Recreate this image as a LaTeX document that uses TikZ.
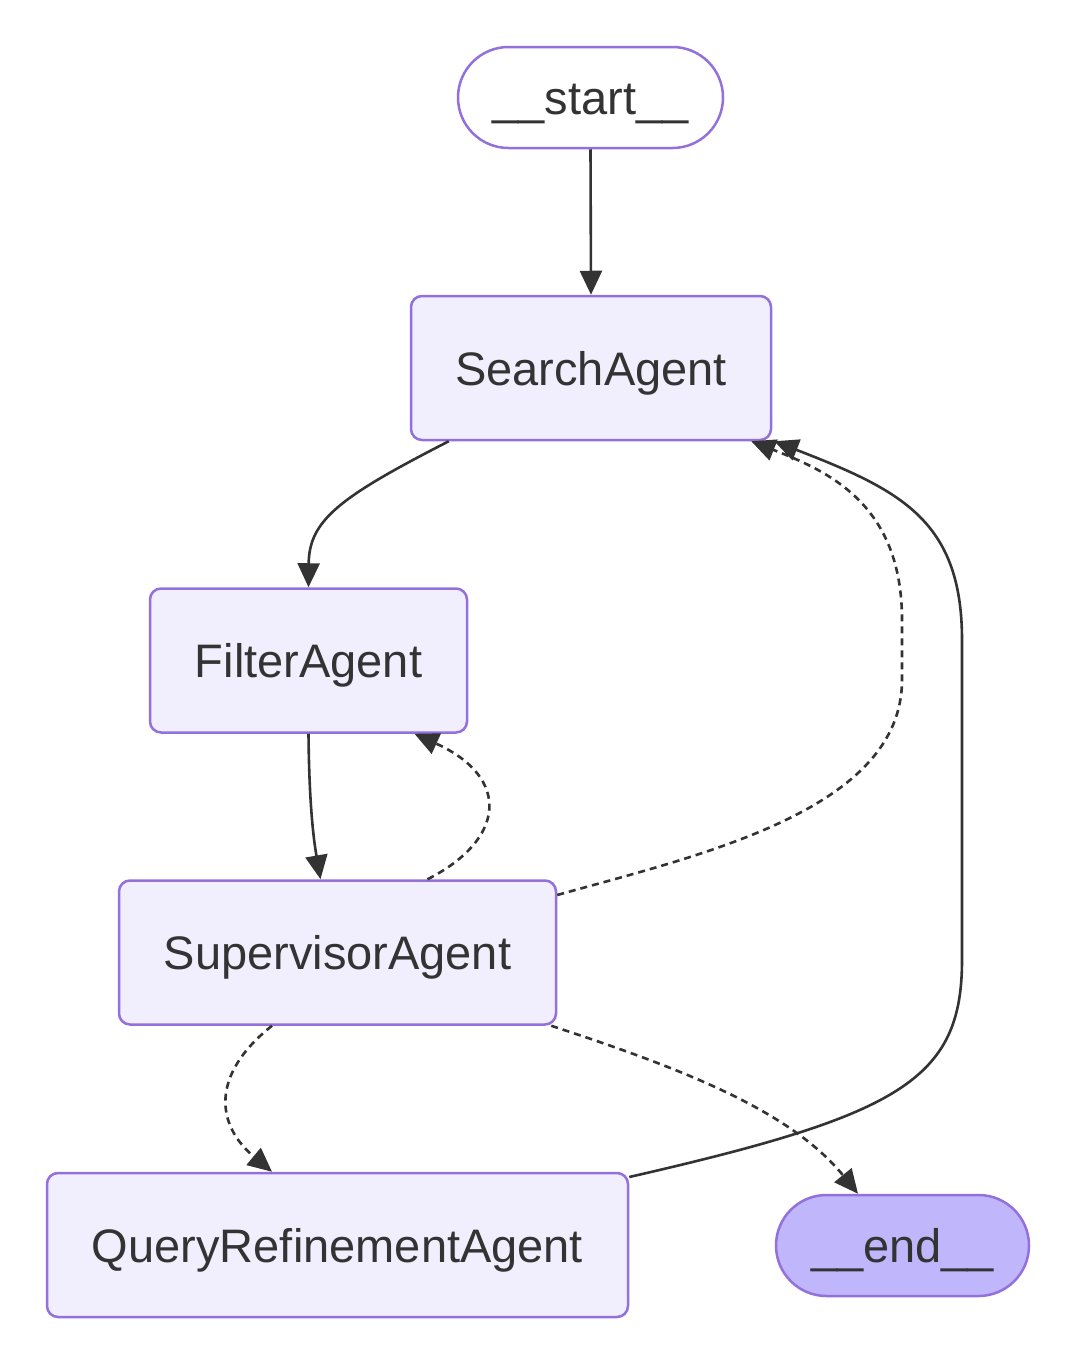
\documentclass[tikz,border=0pt]{standalone}
\usepackage{fontspec}
\setmainfont{Liberation Sans}
\usetikzlibrary{arrows.meta,shapes.misc}
\definecolor{nodefill}{HTML}{F1EFFE}
\definecolor{nodestroke}{HTML}{9370DB}
\definecolor{endfill}{HTML}{BFB6FC}
\definecolor{txt}{HTML}{333333}
\definecolor{edgec}{HTML}{333333}
\tikzset{
  agent/.style={draw=nodestroke, fill=nodefill, line width=2.5pt, rounded corners=11pt,
    minimum height=144pt, inner sep=0pt, text=txt, text height=34pt, text depth=0pt,
    font=\fontsize{47}{50}\selectfont},
  terminal/.style={draw=nodestroke, line width=2.5pt, rounded rectangle, rounded rectangle arc length=180,
    minimum height=101pt, inner sep=0pt, text=txt, text height=33pt, text depth=0pt,
    font=\fontsize{47}{50}\selectfont},
  conn/.style={draw=edgec, line width=2.6pt, -{Triangle[length=24pt,width=22pt]}},
  dconn/.style={conn, dash pattern=on 7pt off 5pt},
}
\begin{document}
\begin{tikzpicture}[x=1pt,y=-1pt]
\useasboundingbox (0,0) rectangle (1077,1368);
\node[terminal, fill=white, minimum width=265pt] (start) at (590.5,97.5) {\_\_start\_\_};
\node[agent, minimum width=360pt] (search) at (591,368) {SearchAgent};
\node[agent, minimum width=317pt] (filter) at (308.5,660.5) {FilterAgent};
\node[agent, minimum width=437pt] (super) at (337.5,952.5) {SupervisorAgent};
\node[agent, minimum width=581pt] (query) at (337.5,1245) {QueryRefinementAgent};
\node[terminal, fill=endfill, minimum width=253pt] (end) at (902.5,1245.5) {\_\_end\_\_};

\draw[conn] (start.south) -- (search.north);
\draw[conn] ([xshift=39pt]search.south west) .. controls (340,497) and (309,520) .. (filter.north);
\draw[conn] (filter.south) .. controls (309,790) and (312,830) .. ([xshift=-17pt]super.north);
\draw[dconn] ([xshift=90pt]super.north) .. controls (505,840) and (512,778) .. ([xshift=106pt]filter.north |- filter.south);
\draw[dconn] ([yshift=57.5pt]super.east) .. controls (700,855) and (902,810) .. (902,680) coordinate (d1)
  -- (902,620) coordinate (d2) .. controls (902,505) and (830,472) .. ([xshift=-21pt]search.south east);
\draw[conn] ([yshift=68pt]query.east) .. controls (900,1115) and (962,1080) .. (962,960) coordinate (q1)
  -- (962,640) coordinate (q2) .. controls (962,520) and (900,490) .. ([xshift=2pt]search.south east);
\draw[dconn] ([xshift=-65.5pt]super.south) .. controls (210,1075) and (216,1125) .. ([xshift=-65.5pt]query.north);
\draw[dconn] ([xshift=-6pt]super.south east) .. controls (680,1068) and (790,1110) .. ([xshift=-44.5pt]end.north);
\end{tikzpicture}
\end{document}
